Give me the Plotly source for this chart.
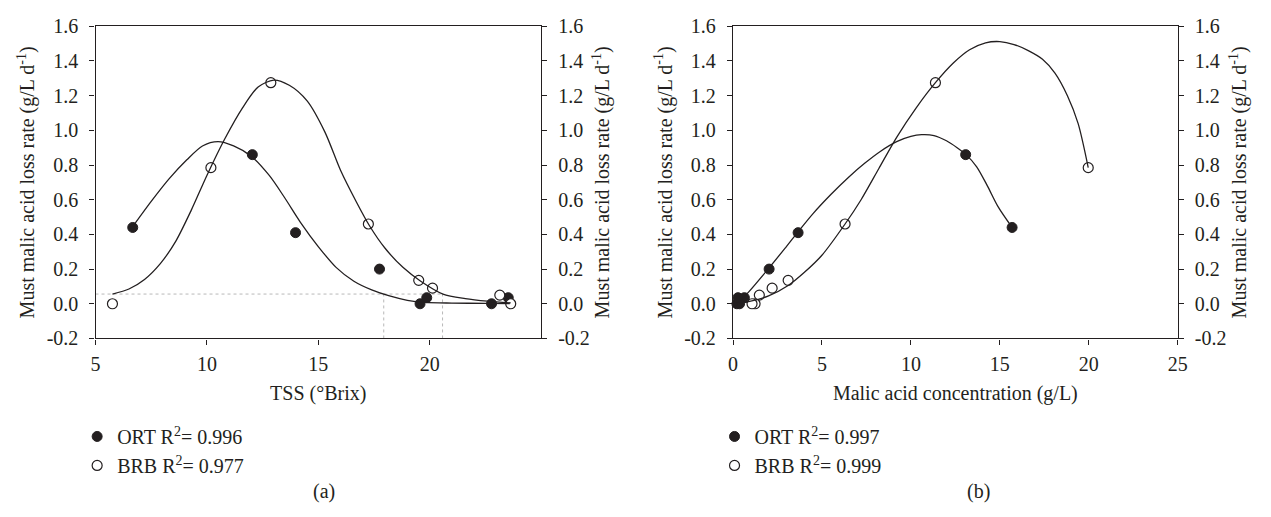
import plotly.graph_objects as go

# ---------------- data ----------------
# Panel (a): loss rate vs TSS
ort_tss = [6.67, 12.04, 13.98, 17.75, 19.57, 19.87, 22.78, 23.53]
ort_rate_a = [0.44, 0.86, 0.41, 0.20, 0.00, 0.035, 0.00, 0.035]
brb_tss = [5.76, 10.18, 12.87, 17.25, 19.51, 20.13, 23.15, 23.64]
brb_rate_a = [0.00, 0.785, 1.275, 0.46, 0.135, 0.09, 0.05, 0.00]

# fitted curves (panel a)
ort_fit_tss = [6.7, 7.5, 8.3, 9.1, 9.8, 10.5, 11.2, 12.0, 12.8, 13.5, 14.2, 15.0,
               15.8, 16.6, 17.4, 18.2, 19.0, 19.8, 21.0, 22.5, 23.6]
ort_fit_rate_a = [0.45, 0.59, 0.72, 0.83, 0.91, 0.935, 0.91, 0.85, 0.74, 0.61, 0.47, 0.33,
                  0.21, 0.13, 0.08, 0.045, 0.02, 0.008, 0.004, 0.002, 0.001]
brb_fit_tss = [5.76, 6.5, 7.2, 7.9, 8.6, 9.3, 10.0, 10.8, 11.6, 12.3, 13.0, 13.7, 14.5,
               15.3, 16.0, 16.7, 17.3, 18.0, 18.8, 19.6, 20.6, 21.6, 22.6, 23.64]
brb_fit_rate_a = [0.056, 0.085, 0.14, 0.23, 0.36, 0.54, 0.74, 0.95, 1.13, 1.25, 1.29, 1.26, 1.17,
                  0.99, 0.77, 0.59, 0.45, 0.32, 0.21, 0.13, 0.056, 0.03, 0.015, 0.005]

# threshold guide lines (panel a)
guide_rate = 0.056
guide_tss = [17.94, 20.58]

# Panel (b): loss rate vs malic acid concentration
ort_malic = [15.69, 13.08, 3.66, 2.03, 0.22, 0.64, 0.37, 0.28]
ort_rate_b = [0.44, 0.86, 0.41, 0.20, 0.00, 0.035, 0.00, 0.035]
brb_malic = [19.97, 11.38, 6.30, 3.10, 2.20, 1.48, 1.24, 1.07]
brb_rate_b = [0.785, 1.275, 0.46, 0.135, 0.09, 0.05, 0.00, 0.00]

ort_fit_malic = [0.22, 0.9, 2.03, 3.0, 3.66, 4.5, 5.5, 6.5, 7.4, 8.3, 9.2, 10.0, 10.6,
                 11.3, 12.0, 12.6, 13.1, 13.7, 14.3, 14.9, 15.69]
ort_fit_rate_b = [0.0, 0.07, 0.207, 0.33, 0.415, 0.52, 0.63, 0.73, 0.81, 0.88, 0.935, 0.965, 0.975,
                  0.97, 0.94, 0.90, 0.86, 0.79, 0.68, 0.56, 0.44]
brb_fit_malic = [0.22, 1.0, 2.0, 3.1, 4.0, 5.0, 6.3, 7.2, 8.2, 9.2, 10.3, 11.38, 12.4, 13.3,
                 14.2, 15.0, 15.8, 16.6, 17.4, 18.1, 18.8, 19.4, 19.97]
brb_fit_rate_b = [0.0, 0.015, 0.045, 0.105, 0.18, 0.28, 0.46, 0.60, 0.78, 0.96, 1.13, 1.275, 1.39, 1.465,
                  1.505, 1.512, 1.495, 1.46, 1.41, 1.33, 1.20, 1.04, 0.785]

# axis ticks
rate_ticks = [-0.2, 0.0, 0.2, 0.4, 0.6, 0.8, 1.0, 1.2, 1.4, 1.6]
rate_labels = ["-0.2", "0.0", "0.2", "0.4", "0.6", "0.8", "1.0", "1.2", "1.4", "1.6"]
tss_ticks = [5, 10, 15, 20]
malic_ticks = [0, 5, 10, 15, 20, 25]

legend_a = ["ORT R<sup>2</sup>= 0.996", "BRB R<sup>2</sup>= 0.977"]
legend_b = ["ORT R<sup>2</sup>= 0.997", "BRB R<sup>2</sup>= 0.999"]

# ---------------- figure ----------------
FONT = "Liberation Serif"
INK = "#231f20"
FS = 20

fig = go.Figure()

def add_panel(xa, ya, ya_r, legend_name, ort_x, ort_y, brb_x, brb_y,
              ofx, ofy, bfx, bfy, labels):
    fig.add_trace(go.Scatter(x=ofx, y=ofy, mode="lines",
                             line=dict(color=INK, width=1.3, shape="spline", smoothing=0.8),
                             xaxis=xa, yaxis=ya_r, showlegend=False, hoverinfo="skip"))
    fig.add_trace(go.Scatter(x=bfx, y=bfy, mode="lines",
                             line=dict(color=INK, width=1.3, shape="spline", smoothing=0.8),
                             xaxis=xa, yaxis=ya_r, showlegend=False, hoverinfo="skip"))
    fig.add_trace(go.Scatter(x=ort_x, y=ort_y, mode="markers", name=labels[0], cliponaxis=False,
                             marker=dict(symbol="circle", size=10, color=INK, line=dict(color=INK, width=1)),
                             xaxis=xa, yaxis=ya, legend=legend_name))
    fig.add_trace(go.Scatter(x=brb_x, y=brb_y, mode="markers", name=labels[1], cliponaxis=False,
                             marker=dict(symbol="circle", size=10, color="white", line=dict(color=INK, width=1.2)),
                             xaxis=xa, yaxis=ya, legend=legend_name))

# guide lines panel (a)
guide_col = "#b8b8b8"
fig.add_trace(go.Scatter(x=[5, guide_tss[1]], y=[guide_rate, guide_rate], mode="lines",
                         line=dict(color=guide_col, width=1, dash="dot"), showlegend=False,
                         hoverinfo="skip", xaxis="x", yaxis="y"))
for gx in guide_tss:
    fig.add_trace(go.Scatter(x=[gx, gx], y=[-0.2, guide_rate], mode="lines",
                             line=dict(color=guide_col, width=1, dash="dot"), showlegend=False,
                             hoverinfo="skip", xaxis="x", yaxis="y"))

add_panel("x", "y", "y2", "legend", ort_tss, ort_rate_a, brb_tss, brb_rate_a,
          ort_fit_tss, ort_fit_rate_a, brb_fit_tss, brb_fit_rate_a, legend_a)
add_panel("x2", "y3", "y4", "legend2", ort_malic, ort_rate_b, brb_malic, brb_rate_b,
          ort_fit_malic, ort_fit_rate_b, brb_fit_malic, brb_fit_rate_b, legend_b)

W, H = 1271, 517
yd = [1 - 342 / H, 1 - 16 / H]
xd1 = [91.6 / W, 542.4 / W]
xd2 = [736.7 / W, 1186.7 / W]

ytitle = "Must malic acid loss rate (g/L d<sup>-1</sup>)"

common_x = dict(showline=True, linecolor=INK, linewidth=1.3, mirror=True, ticks="outside", ticklen=5,
                tickcolor=INK, showgrid=False, zeroline=False, ticklabelstandoff=2,
                tickfont=dict(family=FONT, size=FS, color=INK),
                title_font=dict(family=FONT, size=FS, color=INK))
common_y = dict(showline=True, linecolor=INK, linewidth=1.3, ticks="outside", ticklen=5, tickcolor=INK,
                showgrid=False, zeroline=False, range=[-0.2, 1.6], tickvals=rate_ticks, ticktext=rate_labels,
                ticklabelstandoff=7, tickfont=dict(family=FONT, size=FS, color=INK),
                title=dict(text=ytitle, font=dict(family=FONT, size=FS, color=INK), standoff=6))

fig.update_layout(
    width=W, height=H,
    margin=dict(l=0, r=0, t=0, b=0),
    paper_bgcolor="white", plot_bgcolor="white",
    font=dict(family=FONT, size=FS, color=INK),
    xaxis=dict(domain=xd1, range=[5, 25], tickvals=tss_ticks, anchor="y",
               title=dict(text="TSS (°Brix)", standoff=12), **common_x),
    yaxis=dict(domain=yd, anchor="x", side="left", **common_y),
    yaxis2=dict(overlaying="y", anchor="x", side="right", **common_y),
    xaxis2=dict(domain=xd2, range=[0, 25], tickvals=malic_ticks, anchor="y3",
                title=dict(text="Malic acid concentration (g/L)", standoff=12), **common_x),
    yaxis3=dict(domain=yd, anchor="x2", side="left", **common_y),
    yaxis4=dict(overlaying="y3", anchor="x2", side="right", **common_y),
    legend=dict(x=73 / W, y=1 - 424 / H, xanchor="left", yanchor="top", bgcolor="rgba(0,0,0,0)",
                font=dict(family=FONT, size=FS, color=INK), tracegroupgap=0),
    legend2=dict(x=(73 + 645) / W, y=1 - 424 / H, xanchor="left", yanchor="top", bgcolor="rgba(0,0,0,0)",
                 font=dict(family=FONT, size=FS, color=INK), tracegroupgap=0),
    annotations=[
        dict(text="(a)", x=323 / W, y=1 - 502 / H, xref="paper", yref="paper", showarrow=False,
             xanchor="center", yanchor="middle", font=dict(family=FONT, size=FS, color=INK)),
        dict(text="(b)", x=985 / W, y=1 - 502 / H, xref="paper", yref="paper", showarrow=False,
             xanchor="center", yanchor="middle", font=dict(family=FONT, size=FS, color=INK)),
    ],
)

fig.write_html("out.html")
